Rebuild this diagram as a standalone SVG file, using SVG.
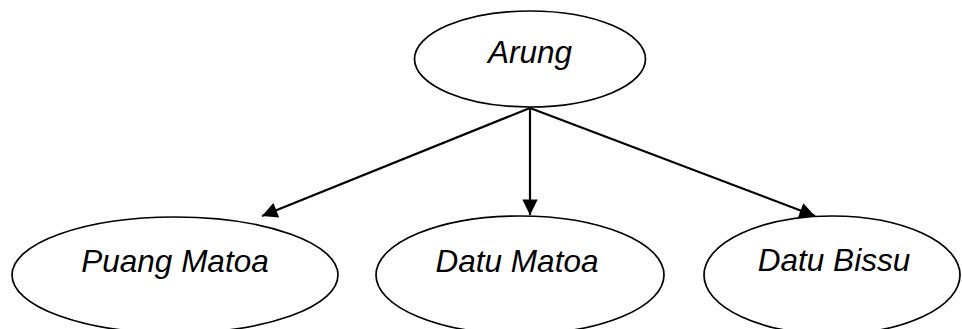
<svg xmlns="http://www.w3.org/2000/svg" width="962" height="329" viewBox="0 0 962 329">
<style>
.node ellipse{fill:#fff;stroke:#000;stroke-width:1.7}
.node text{font-family:"Liberation Sans",Arial,sans-serif;font-style:italic;font-size:31.5px;fill:#000;text-anchor:middle}
.edge{stroke:#000;stroke-width:2.2;fill:none;marker-end:url(#arr)}
</style>
<defs>
<marker id="arr" viewBox="0 0 10 10" refX="10" refY="5" markerWidth="8" markerHeight="7" markerUnits="strokeWidth" orient="auto">
<path d="M0,0 L10,5 L0,10 z" fill="#000"/>
</marker>
</defs>
<rect width="962" height="329" fill="#fff"/>
<g id="n-arung" class="node">
<ellipse cx="530" cy="59" rx="115.5" ry="48"/>
<text x="530" y="63">Arung</text>
</g>
<g id="n-puang" class="node">
<ellipse cx="175" cy="275" rx="163" ry="58"/>
<text x="175" y="272">Puang Matoa</text>
</g>
<g id="n-datumatoa" class="node">
<ellipse cx="520" cy="275" rx="144" ry="59"/>
<text x="517" y="272">Datu Matoa</text>
</g>
<g id="n-datubissu" class="node">
<ellipse cx="832" cy="275" rx="128" ry="59"/>
<text x="834" y="271">Datu Bissu</text>
</g>
<g id="connectors">
<line class="edge" x1="530" y1="108" x2="262" y2="216"/>
<line class="edge" x1="530" y1="108" x2="530" y2="215"/>
<line class="edge" x1="530" y1="108" x2="815" y2="216"/>
</g>
</svg>
